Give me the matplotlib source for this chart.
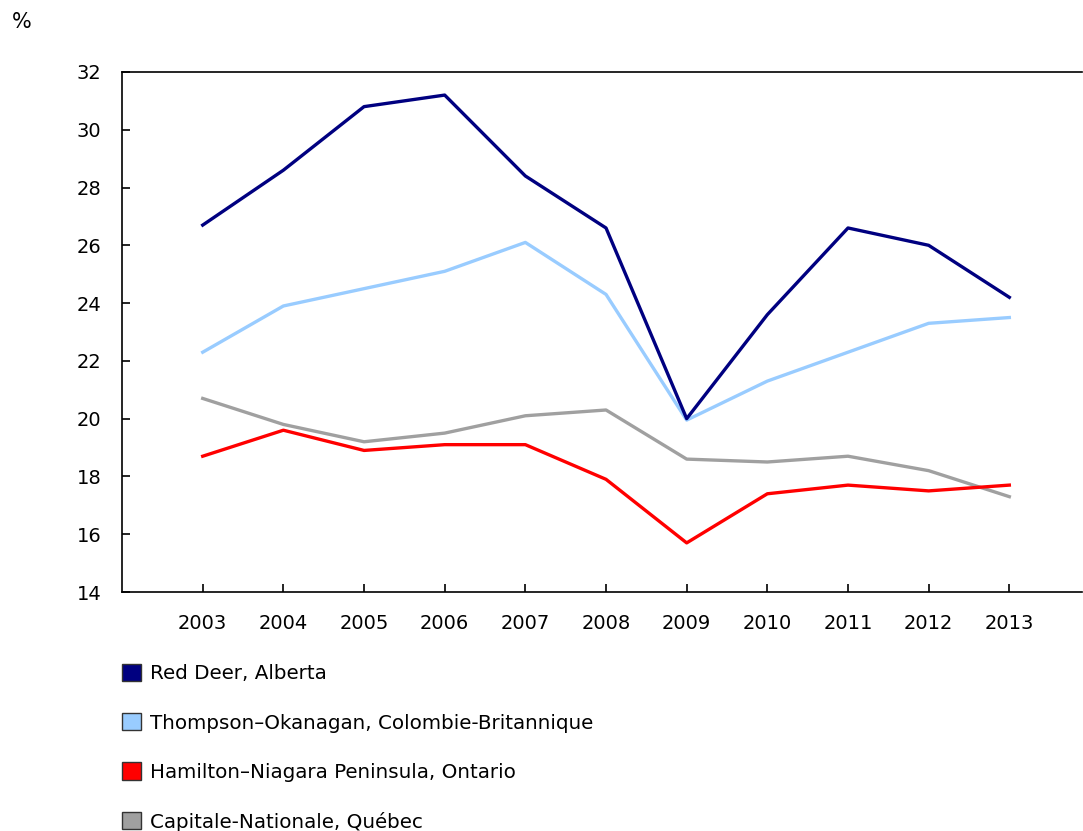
import matplotlib.pyplot as plt
from matplotlib.patches import Patch

# Data
years = [2003, 2004, 2005, 2006, 2007, 2008, 2009, 2010, 2011, 2012, 2013]
red_deer = [26.7, 28.6, 30.8, 31.2, 28.4, 26.6, 20.0, 23.6, 26.6, 26.0, 24.2]
thompson = [22.3, 23.9, 24.5, 25.1, 26.1, 24.3, 19.95, 21.3, 22.3, 23.3, 23.5]
hamilton = [18.7, 19.6, 18.9, 19.1, 19.1, 17.9, 15.7, 17.4, 17.7, 17.5, 17.7]
capitale = [20.7, 19.8, 19.2, 19.5, 20.1, 20.3, 18.6, 18.5, 18.7, 18.2, 17.3]

labels = ["Red Deer, Alberta",
          "Thompson\u2013Okanagan, Colombie-Britannique",
          "Hamilton\u2013Niagara Peninsula, Ontario",
          "Capitale-Nationale, Québec"]
colors = ["#000080", "#99ccff", "#ff0000", "#a0a0a0"]
series = [red_deer, thompson, hamilton, capitale]
yticks = list(range(14, 33, 2))

plt.rcParams['font.family'] = ['DejaVu Sans']

fig = plt.figure(figsize=(10.83, 8.31), dpi=100)
ax = fig.add_axes([0.1127, 0.2876, 0.8863, 0.6258])

# draw in reverse so Red Deer is on top
for vals, col in reversed(list(zip(series, colors))):
    ax.plot(years, vals, color=col, linewidth=2.4)

ax.set_xlim(2002, 2013.9)
ax.set_ylim(14, 32)
ax.set_yticks(yticks)
ax.set_xticks(years)
ax.tick_params(axis='both', direction='in', length=6, width=1.2,
               labelsize=14, colors='black')
ax.tick_params(axis='x', pad=16)
ax.tick_params(axis='y', pad=15)
ax.spines['right'].set_visible(False)
for s in ['left', 'bottom', 'top']:
    ax.spines[s].set_linewidth(1.2)

fig.text(0.011, 0.973, "%", fontsize=15, va='center', ha='left')

handles = [Patch(facecolor=c, edgecolor='#333333', linewidth=1) for c in colors]
fig.legend(handles, labels, loc='upper left', bbox_to_anchor=(0.1055, 0.2105),
           frameon=False, fontsize=14.3, handlelength=0.95, handleheight=0.95,
           handletextpad=0.45, labelspacing=1.5, borderaxespad=0)

fig.savefig("out.png", dpi=100)
